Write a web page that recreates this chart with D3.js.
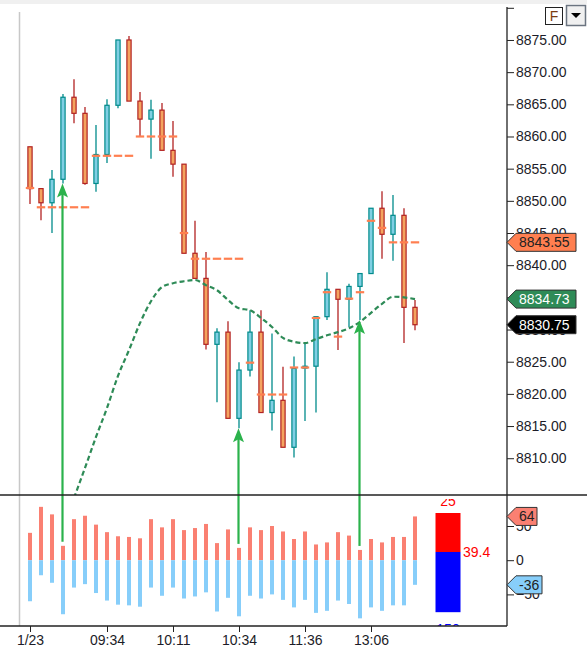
<!DOCTYPE html>
<html>
<head>
<meta charset="utf-8">
<script src="https://cdn.jsdelivr.net/npm/d3@7"></script>
<style>
	body { margin: 0; background: #ffffff; }
	svg { display: block; font-family: "Liberation Sans", Arial, sans-serif; }
</style>
</head>
<body>
<div id="chart"></div>
<script>
// candles, one per bar slot (index 0..35)
var opens  = [8858.4, 8851.9, 8849.7, 8853.35, 8866.1, 8863.6, 8852.7, 8857.2, 8864.85, 8875.0,
	8865.5, 8862.7, 8864.1, 8857.85, 8855.7, 8841.85, 8837.95, 8827.7, 8829.6, 8816.2,
	8823.7, 8829.6, 8817.1, 8819.0, 8811.7, 8824.0, 8824.3, 8832.0, 8836.25, 8834.7,
	8836.7, 8838.7, 8848.85, 8844.8, 8847.75, 8833.45];
var highs  = [8858.4, 8851.9, 8854.8, 8866.6, 8868.9, 8864.6, 8861.8, 8865.8, 8875.0, 8875.6,
	8866.9, 8865.7, 8865.2, 8862.4, 8855.7, 8846.9, 8842.05, 8830.2, 8831.3, 8824.9,
	8833.0, 8833.0, 8829.4, 8824.2, 8825.8, 8827.9, 8832.0, 8838.9, 8836.25, 8837.1,
	8838.7, 8848.85, 8851.5, 8850.9, 8848.85, 8834.6];
var lows   = [8849.5, 8847.0, 8845.0, 8852.7, 8862.05, 8852.5, 8851.4, 8855.9, 8864.4, 8865.5,
	8860.0, 8856.55, 8857.85, 8853.75, 8841.85, 8837.95, 8826.9, 8818.7, 8816.2, 8814.65,
	8822.7, 8817.1, 8814.3, 8811.7, 8810.1, 8815.8, 8817.1, 8831.5, 8826.8, 8830.4,
	8831.5, 8838.7, 8841.0, 8840.7, 8827.9, 8829.9];
var closes = [8851.9, 8849.7, 8853.35, 8866.1, 8863.6, 8852.7, 8857.2, 8864.85, 8875.0, 8865.5,
	8862.7, 8864.1, 8857.85, 8855.7, 8841.85, 8837.95, 8827.7, 8829.6, 8816.2, 8823.7,
	8829.6, 8817.1, 8819.0, 8811.7, 8823.95, 8824.3, 8832.0, 8836.25, 8834.7, 8836.7,
	8838.7, 8848.85, 8844.8, 8847.75, 8833.45, 8830.75];

// orange step level (one short dash per bar)
var levels = [8852, 8849, 8849, 8849, 8849, 8849, 8857, 8857, 8857, 8857,
	8860, 8860, 8860, 8860, 8845, 8841, 8841, 8841, 8841, 8841,
	8824.85, 8819.9, 8819.9, 8819.9, 8824.1, 8824.1, 8831.8, 8835.8, 8828.9, 8834.8,
	8835.8, 8846.9, 8845.8, 8843.55, 8843.55, 8843.55];

// green dashed average, starts at bar 4
var avgStart = 4;
var avgValues = [8803.8, 8808.5, 8813.3, 8817.8, 8822.8, 8826.8, 8831.0, 8834.4, 8836.6, 8837.2,
	8837.5, 8837.7, 8836.9, 8836.1, 8834.6, 8833.3, 8833.0, 8831.8, 8830.4, 8828.7,
	8828.1, 8827.9, 8828.5, 8829.1, 8829.6, 8830.2, 8831.2, 8832.6, 8834.0, 8835.1,
	8835.0, 8834.73];

// lower panel: buy / sell percentages
var buyPct  = [40, 78, 67, 21, 60, 65, 52, 41, 35, 34, 32, 60, 48, 60, 44, 47, 53, 25, 45, 18,
	48, 44, 50, 42, 31, 42, 23, 26, 41, 36, 15, 31, 26, 34, 34, 64];
var sellPct = [60, 22, 33, 79, 40, 35, 48, 59, 65, 66, 68, 40, 52, 40, 56, 53, 47, 75, 55, 82,
	52, 56, 50, 58, 69, 58, 77, 74, 59, 64, 85, 69, 74, 66, 66, 36];

// signal arrows (bar index)
var signalBars = [3, 19, 30];

// summary gauge at the right of the lower panel
var gaugeBar = 38;
var gaugeValues = [69, 12, -76];
var gaugeTexts = ["25", "39.4", "150"];

// axis ticks
var priceTicks = [8880, 8875, 8870, 8865, 8860, 8855, 8850, 8845, 8840, 8835, 8830, 8825, 8820, 8815, 8810];
var lowerTicks = [50, 0, -50];
var timeTickBars = [0, 7, 13, 19, 25, 31];
var timeTickLabels = ["1/23", "09:34", "10:11", "10:34", "11:36", "13:06"];

// price tags on the right axis
var priceTags = [
	{ value: 8843.55, fill: "#ff7f50", text: "#222222" },
	{ value: 8834.73, fill: "#2e8b57", text: "#ffffff" },
	{ value: 8830.75, fill: "#000000", text: "#ffffff" }
];
var lowerTags = [
	{ value: 64, label: "64", fill: "#fa8072" },
	{ value: -36, label: "-36", fill: "#87cefa" }
];

var W = 587, H = 660;
var axisX = 507;
var mainTop = 7, mainBottom = 495, lowerBottom = 626;

var UP_FILL = "#80cfe3", UP_LINE = "#008b8b";
var DN_FILL = "#f4a460", DN_LINE = "#b22222";

var svg = d3.select("#chart").append("svg")
	.attr("width", W)
	.attr("height", H);

var x = d3.scaleLinear().domain([0, 35]).range([30, 415]);
var y = d3.scaleLinear().domain([8880, 8805]).range([7.8, 490.4]);
var yl = d3.scaleLinear().domain([50, -50]).range([526, 594.4]);

var defs = svg.append("defs");
defs.append("clipPath").attr("id", "clipMain")
	.append("rect").attr("x", 0).attr("y", mainTop).attr("width", axisX).attr("height", mainBottom - mainTop);
// the indicator pane draws a little below the separator
defs.append("clipPath").attr("id", "clipLower")
	.append("rect").attr("x", 0).attr("y", mainBottom + 4).attr("width", axisX).attr("height", lowerBottom - mainBottom - 4);

// top strip
svg.append("rect").attr("x", 0).attr("y", 0).attr("width", W).attr("height", 4).attr("fill", "#f0f0f0");

// day separator
svg.append("line")
	.attr("x1", 19.5).attr("x2", 19.5).attr("y1", 12).attr("y2", lowerBottom)
	.attr("stroke", "#c8c8c8").attr("stroke-width", 1.5);

var main = svg.append("g").attr("clip-path", "url(#clipMain)");
var lower = svg.append("g").attr("clip-path", "url(#clipLower)");

var bars = d3.range(opens.length);

// ---- candles
var candle = main.selectAll(".candle").data(bars).enter()
	.append("g").attr("class", "candle");

candle.append("line")
	.attr("x1", function (i) { return x(i); })
	.attr("x2", function (i) { return x(i); })
	.attr("y1", function (i) { return y(highs[i]); })
	.attr("y2", function (i) { return y(lows[i]); })
	.attr("stroke", function (i) { return closes[i] >= opens[i] ? UP_LINE : DN_LINE; })
	.attr("stroke-width", 1.3);

candle.append("rect")
	.attr("x", function (i) { return x(i) - 2.1; })
	.attr("width", 4.2)
	.attr("y", function (i) { return y(Math.max(opens[i], closes[i])); })
	.attr("height", function (i) { return Math.max(1, Math.abs(y(opens[i]) - y(closes[i]))); })
	.attr("fill", function (i) { return closes[i] >= opens[i] ? UP_FILL : DN_FILL; })
	.attr("stroke", function (i) { return closes[i] >= opens[i] ? UP_LINE : DN_LINE; })
	.attr("stroke-width", 1.2);

// ---- level dashes
main.selectAll(".level").data(bars).enter()
	.append("line").attr("class", "level")
	.attr("x1", function (i) { return x(i) - 4.2; })
	.attr("x2", function (i) { return x(i) + 4.2; })
	.attr("y1", function (i) { return y(levels[i]); })
	.attr("y2", function (i) { return y(levels[i]); })
	.attr("stroke", "#ff7f50")
	.attr("stroke-width", 2.2);

// ---- average line
var avgLine = d3.line()
	.x(function (d, k) { return x(avgStart + k); })
	.y(function (d) { return y(d); })
	.curve(d3.curveMonotoneX);

main.append("path")
	.datum(avgValues)
	.attr("d", avgLine)
	.attr("fill", "none")
	.attr("stroke", "#2e8b57")
	.attr("stroke-width", 2.2)
	.attr("stroke-dasharray", "5,3");

// ---- lower panel bars
lower.selectAll(".buy").data(bars).enter()
	.append("rect").attr("class", "buy")
	.attr("x", function (i) { return x(i) - 2; })
	.attr("width", 4)
	.attr("y", function (i) { return yl(buyPct[i]); })
	.attr("height", function (i) { return yl(0) - yl(buyPct[i]); })
	.attr("fill", "#fa8072");

lower.selectAll(".sell").data(bars).enter()
	.append("rect").attr("class", "sell")
	.attr("x", function (i) { return x(i) - 2; })
	.attr("width", 4)
	.attr("y", yl(0))
	.attr("height", function (i) { return yl(-sellPct[i]) - yl(0); })
	.attr("fill", "#87cefa");

// gauge
var gx = x(gaugeBar);
lower.append("rect")
	.attr("x", gx - 12.5).attr("width", 25)
	.attr("y", yl(gaugeValues[0])).attr("height", yl(gaugeValues[1]) - yl(gaugeValues[0]))
	.attr("fill", "#ff0000");
lower.append("rect")
	.attr("x", gx - 12.5).attr("width", 25)
	.attr("y", yl(gaugeValues[1])).attr("height", yl(gaugeValues[2]) - yl(gaugeValues[1]))
	.attr("fill", "#0000ff");
lower.append("text")
	.attr("x", gx).attr("y", yl(gaugeValues[0]) - 7)
	.attr("text-anchor", "middle").attr("font-size", 14).attr("fill", "#ff0000")
	.text(gaugeTexts[0]);
lower.append("text")
	.attr("x", gx + 15).attr("y", yl(gaugeValues[1]) + 5)
	.attr("font-size", 14).attr("fill", "#ff0000")
	.text(gaugeTexts[1]);
lower.append("text")
	.attr("x", gx).attr("y", yl(gaugeValues[2]) + 22)
	.attr("text-anchor", "middle").attr("font-size", 14).attr("fill", "#0000ff")
	.text(gaugeTexts[2]);

// ---- signal arrows (from oscillator up to the bar low)
var arrows = svg.selectAll(".signal").data(signalBars).enter()
	.append("g").attr("class", "signal");

arrows.append("line")
	.attr("x1", function (i) { return x(i) - 0.5; })
	.attr("x2", function (i) { return x(i) - 0.5; })
	.attr("y1", function (i) { return yl(buyPct[i]) - 4; })
	.attr("y2", function (i) { return y(lows[i]) + 8; })
	.attr("stroke", "#2bb24c")
	.attr("stroke-width", 2.2);

arrows.append("path")
	.attr("d", function (i) {
		var ax = x(i) - 0.5, ay = y(lows[i]);
		return "M" + ax + "," + ay + "L" + (ax - 5.5) + "," + (ay + 14) +
			"L" + ax + "," + (ay + 11) + "L" + (ax + 5.5) + "," + (ay + 14) + "Z";
	})
	.attr("fill", "#2bb24c");

// ---- frame lines
svg.append("line")
	.attr("x1", 0).attr("x2", W).attr("y1", mainBottom).attr("y2", mainBottom)
	.attr("stroke", "#222").attr("stroke-width", 1.3);
svg.append("line")
	.attr("x1", 0).attr("x2", axisX).attr("y1", lowerBottom).attr("y2", lowerBottom)
	.attr("stroke", "#222").attr("stroke-width", 1.3);

// ---- right price axis
var priceAxis = d3.axisRight(y)
	.tickValues(priceTicks)
	.tickSize(7)
	.tickPadding(2)
	.tickFormat(function (d) { return d === 8880 ? "" : d3.format(".2f")(d); });

var pa = svg.append("g")
	.attr("transform", "translate(" + axisX + ",0)")
	.call(priceAxis);
pa.select(".domain").remove();
pa.append("line").attr("x1", 0).attr("x2", 0).attr("y1", mainTop).attr("y2", lowerBottom)
	.attr("stroke", "#222").attr("stroke-width", 1.3);

var la = svg.append("g")
	.attr("transform", "translate(" + axisX + ",0)")
	.call(d3.axisRight(yl).tickValues(lowerTicks).tickSize(7).tickPadding(2));
la.select(".domain").remove();

svg.selectAll(".tick line").attr("stroke", "#222");
svg.selectAll(".tick text")
	.attr("font-family", "'Liberation Sans', Arial, sans-serif")
	.attr("font-size", 14)
	.attr("fill", "#1c1c28");

// ---- time axis
var ta = svg.append("g")
	.attr("transform", "translate(0," + lowerBottom + ")")
	.call(d3.axisBottom(x)
		.tickValues(timeTickBars)
		.tickSize(6)
		.tickPadding(3)
		.tickFormat(function (d, k) { return timeTickLabels[k]; }));
ta.select(".domain").remove();
ta.selectAll(".tick line").attr("stroke", "#222");
ta.selectAll(".tick text")
	.attr("font-family", "'Liberation Sans', Arial, sans-serif")
	.attr("font-size", 14)
	.attr("fill", "#1c1c28");

// ---- tags
function tagPath(ty, w) {
	var x0 = axisX, h = 9;
	return "M" + x0 + "," + ty + "L" + (x0 + 9) + "," + (ty - h) + "L" + (x0 + w) + "," + (ty - h) +
		"L" + (x0 + w) + "," + (ty + h) + "L" + (x0 + 9) + "," + (ty + h) + "Z";
}

var pt = svg.selectAll(".ptag").data(priceTags).enter()
	.append("g").attr("class", "ptag");
pt.append("path")
	.attr("d", function (d) { return tagPath(y(d.value), 69); })
	.attr("fill", function (d) { return d.fill; })
	.attr("stroke", "#333").attr("stroke-width", 1);
pt.append("text")
	.attr("x", axisX + 12)
	.attr("y", function (d) { return y(d.value) + 5; })
	.attr("font-size", 14)
	.attr("fill", function (d) { return d.text; })
	.text(function (d) { return d3.format(".2f")(d.value); });

var lt = svg.selectAll(".ltag").data(lowerTags).enter()
	.append("g").attr("class", "ltag");
lt.append("path")
	.attr("d", function (d) { return tagPath(yl(d.value), d.label.length > 2 ? 35 : 30); })
	.attr("fill", function (d) { return d.fill; })
	.attr("stroke", "#333").attr("stroke-width", 1);
lt.append("text")
	.attr("x", axisX + 12)
	.attr("y", function (d) { return yl(d.value) + 5; })
	.attr("font-size", 14)
	.attr("fill", "#222")
	.text(function (d) { return d.label; });

// ---- top right buttons
svg.append("rect").attr("x", 545.5).attr("y", 7.5).attr("width", 17).attr("height", 17)
	.attr("fill", "#fff").attr("stroke", "#222").attr("stroke-width", 1);
svg.append("text").attr("x", 554).attr("y", 21).attr("text-anchor", "middle")
	.attr("font-size", 14).attr("fill", "#7a3b10").text("F");
svg.append("rect").attr("x", 566.5).attr("y", 5.5).attr("width", 19).attr("height", 20)
	.attr("fill", "#f0f0f0").attr("stroke", "#6b7480").attr("stroke-width", 1.5);
svg.append("path").attr("d", "M571,13L581,13L576,18Z").attr("fill", "#000");

console.log("bars: " + bars.length);
</script>
</body>
</html>
